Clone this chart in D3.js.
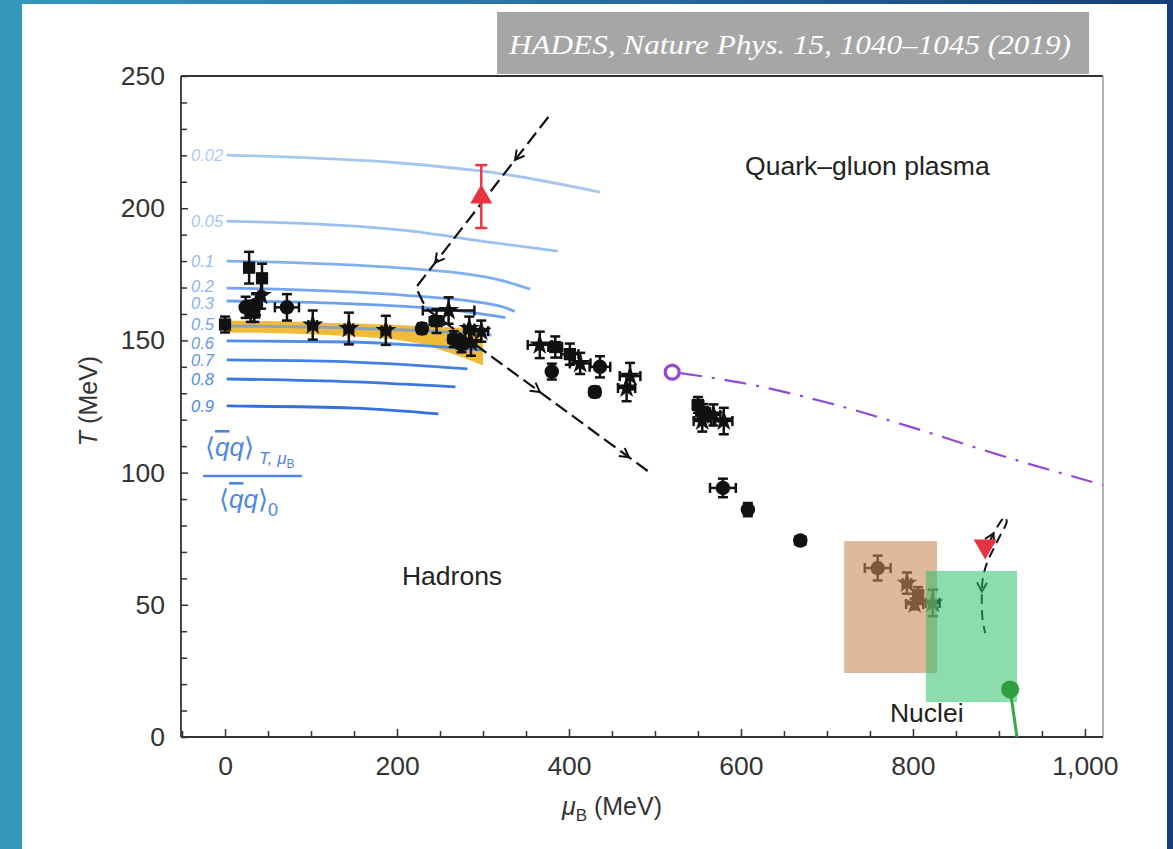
<!DOCTYPE html>
<html>
<head>
<meta charset="utf-8">
<script src="https://cdn.jsdelivr.net/npm/d3@7"></script>
<style>
  html, body { margin: 0; padding: 0; overflow: hidden; }
  svg text { font-family: "Liberation Sans", Arial, Helvetica, sans-serif; }
</style>
</head>
<body>
<svg id="chart" width="1173" height="849"></svg>
<script>
// ---- data ----
const xTicks = [0, 200, 400, 600, 800, 1000];
const yTicks = [0, 50, 100, 150, 200, 250];

// condensate ratio contours <qq>_T,muB / <qq>_0
const ccLevels = ["0.02", "0.05", "0.1", "0.2", "0.3", "0.5", "0.6", "0.7", "0.8", "0.9"];
const ccMu = [
  [2, 203, 316, 436],
  [2, 203, 316, 387],
  [2, 203, 320, 355],
  [2, 203, 320, 337],
  [2, 150, 260, 326],
  [2, 150, 250, 310],
  [2, 145, 220, 300],
  [2, 150, 282],
  [2, 150, 268],
  [2, 150, 248]
];
const ccT = [
  [220.1, 217.1, 213.3, 206.1],
  [195.1, 191.8, 186.8, 183.8],
  [180.0, 177.4, 172.8, 169.4],
  [169.8, 167.2, 163.0, 160.9],
  [164.9, 163.8, 161.6, 158.6],
  [155.5, 154.6, 153.3, 152.0],
  [149.8, 149.4, 148.2, 146.4],
  [142.6, 141.8, 139.2],
  [135.4, 134.3, 132.4],
  [125.2, 124.4, 122.2]
];
const ccColors = ["#a6c6f0", "#9cc0f0", "#80b0f0", "#74a7ee", "#6aa0ec", "#5d97ea", "#4d8ce8", "#4280e4", "#3a78e0", "#3370de"];
const ccLabelColors = ["#b0cbee", "#a8c5ee", "#98bbee", "#8fb5ee", "#85aeec", "#77a4ea", "#6a9be8", "#5e92e6", "#5289e4", "#4a83e2"];

// lattice pseudo-critical band
const bandMu = [0, 50, 100, 150, 200, 250, 300];
const bandHi = [157.5, 157.3, 156.9, 156.4, 155.8, 155.1, 154.5];
const bandLo = [153, 152.8, 152.3, 151.5, 150.2, 146.5, 140.5];

// chemical freeze-out points
const foMu  = [0, 28, 43, 24, 30, 36, 42, 34, 72, 102, 144, 187, 229, 246, 260, 266, 275, 286, 284, 298,
               366, 384, 380, 401, 413, 436, 430, 471, 467,
               550, 556, 568, 555, 580, 579, 608, 669, 759, 793, 806, 802, 823];
const foT   = [156, 177.5, 173.5, 162.5, 161, 163.5, 167, 160.5, 162.5, 155.8, 154.5, 153.8, 154.5, 157.3, 161.3, 150.5, 148.5, 149.2, 154.5, 153.5,
               148.3, 147.5, 138.2, 144.8, 141.3, 140, 130.5, 136.5, 132,
               125.6, 122.9, 121.8, 119.5, 119.5, 94.2, 86, 74.3, 63.9, 58.2, 53.7, 50.3, 50.7];
const foDMu = [2, 3, 3, 3, 4, 3, 3, 5, 14, 5, 5, 5, 5, 8, 30, 6, 6, 6, 6, 8,
               14, 8, 3, 10, 12, 12, 6, 12, 10,
               6, 8, 8, 10, 10, 15, 4, 6, 15, 5, 5, 10, 8];
const foDT  = [3, 6, 5.5, 4, 4, 4, 5, 3.5, 5, 5.5, 6, 5.5, 2, 4.5, 5, 3, 3, 5, 4.5, 4,
               5, 4, 3, 4, 4, 4, 2, 5, 5,
               3, 3, 4, 4, 5, 3.5, 2.5, 1.5, 4.7, 4, 3, 2, 5];
const foShape = ["square", "square", "square", "circle", "square", "circle", "star", "square", "circle", "star", "star", "star", "circle", "square", "star", "circle", "circle", "star", "star", "star",
                 "star", "square", "circle", "square", "star", "circle", "circle", "star", "star",
                 "square", "square", "star", "star", "star", "circle", "circle", "circle", "circle", "star", "square", "star", "star"];

// red triangles
const triUp = { mu: 298, T: 204.2, lo: 192.5, hi: 216.3 };
const triDown = { mu: 884, T: 72.2 };

// dashed trajectories
const traj1Mu = [376, 222, 234, 494];
const traj1T  = [234.5, 170, 162, 100];
const traj2Mu = [884, 890, 898, 907, 909, 903, 893, 886, 881, 880, 881, 884];
const traj2T  = [68.1, 74.5, 79.4, 83.2, 81.3, 77.2, 70.7, 65.8, 59.4, 51.8, 44.3, 39.3];

// critical end point and its line
const cepMu = [520, 600, 700, 800, 900, 1021];
const cepT  = [138, 134, 126.5, 117, 106.7, 95.3];

// nuclear liquid-gas point
const nucMu = [913, 917, 921];
const nucT  = [18, 9, 0];

// shaded regions
const boxBrown = { mu: [720, 828], T: [24.2, 74.1] };
const boxGreen = { mu: [815, 921], T: [13.2, 62.8] };

// ---- drawing ----
const svg = d3.select("#chart");
const W = 1173, H = 849;

const defs = svg.append("defs");
const grad = defs.append("linearGradient").attr("id", "bg").attr("x1", 0).attr("y1", 0).attr("x2", 1).attr("y2", 0);
grad.append("stop").attr("offset", 0).attr("stop-color", "#3399bb");
grad.append("stop").attr("offset", 0.45).attr("stop-color", "#2874a2");
grad.append("stop").attr("offset", 1).attr("stop-color", "#163c7c");

svg.append("rect").attr("width", W).attr("height", H).attr("fill", "url(#bg)");
svg.append("rect").attr("x", 22).attr("y", 4).attr("width", 1145).attr("height", H).attr("fill", "#ffffff");

// title box
svg.append("rect").attr("x", 497).attr("y", 12).attr("width", 592).attr("height", 62).attr("fill", "#a6a6a6");
svg.append("text")
  .attr("x", 790).attr("y", 54)
  .attr("text-anchor", "middle")
  .style("font-family", "'Liberation Serif', 'DejaVu Serif', serif")
  .style("font-style", "italic")
  .style("font-size", "28px")
  .attr("fill", "#ffffff")
  .attr("textLength", 562).attr("lengthAdjust", "spacingAndGlyphs")
  .text("HADES, Nature Phys. 15, 1040–1045 (2019)");

const x = d3.scaleLinear().domain([-51.2, 1021]).range([181, 1103]);
const y = d3.scaleLinear().domain([0, 250]).range([737, 76]);

// axes
const minorX = d3.range(-50, 1021, 50).filter(d => d % 200 !== 0);
const minorY = d3.range(0, 251, 10).filter(d => d % 50 !== 0);

svg.append("g").attr("transform", "translate(0,737)")
  .call(d3.axisBottom(x).tickValues(minorX).tickSize(-6).tickFormat(""))
  .call(g => g.select(".domain").remove());
const gx = svg.append("g").attr("transform", "translate(0,737)")
  .call(d3.axisBottom(x).tickValues(xTicks).tickSize(-8).tickPadding(19).tickFormat(d3.format(",")))
  .call(g => g.select(".domain").remove());
gx.selectAll("text").style("font-size", "26.5px").attr("fill", "#333");

svg.append("g").attr("transform", "translate(181,0)")
  .call(d3.axisLeft(y).tickValues(minorY).tickSize(-6).tickFormat(""))
  .call(g => g.select(".domain").remove());
const gy = svg.append("g").attr("transform", "translate(181,0)")
  .call(d3.axisLeft(y).tickValues(yTicks).tickSize(-7).tickPadding(16))
  .call(g => g.select(".domain").remove());
gy.selectAll("text").style("font-size", "26.5px").attr("fill", "#333");
svg.selectAll(".tick line").attr("stroke", "#333").attr("stroke-width", 1.5);

// frame
svg.append("line").attr("x1", 181).attr("x2", 1103).attr("y1", 76).attr("y2", 76).attr("stroke", "#333").attr("stroke-width", 1.8);
svg.append("line").attr("x1", 1103).attr("x2", 1103).attr("y1", 76).attr("y2", 737).attr("stroke", "#9a9a9a").attr("stroke-width", 1.5);
svg.append("line").attr("x1", 181).attr("x2", 181).attr("y1", 76).attr("y2", 737).attr("stroke", "#333").attr("stroke-width", 1.8);
svg.append("line").attr("x1", 181).attr("x2", 1103).attr("y1", 737).attr("y2", 737).attr("stroke", "#333").attr("stroke-width", 1.8);

// axis titles
const yl = svg.append("text").attr("transform", "translate(97,401) rotate(-90)")
  .attr("text-anchor", "middle").style("font-size", "25px").attr("fill", "#333");
yl.append("tspan").style("font-style", "italic").text("T");
yl.append("tspan").text(" (MeV)");

const xl = svg.append("text").attr("x", 612).attr("y", 815)
  .attr("text-anchor", "middle").style("font-size", "25px").attr("fill", "#333");
xl.append("tspan").style("font-style", "italic").text("μ");
xl.append("tspan").attr("dy", 6).style("font-size", "17px").text("B");
xl.append("tspan").attr("dy", -6).text(" (MeV)");

// band
const area = d3.area().x(d => x(d[0])).y0(d => y(d[1])).y1(d => y(d[2])).curve(d3.curveMonotoneX);
svg.append("path")
  .datum(bandMu.map((m, i) => [m, bandLo[i], bandHi[i]]))
  .attr("d", area).attr("fill", "#f1bb3a");

// contour lines and labels (labels of close pairs nudged apart a little)
const labelNudge = [0, 0, 0, -2, 2, -2, 2, 0, 0, 0];
const line = d3.line().x(d => x(d[0])).y(d => y(d[1])).curve(d3.curveMonotoneX);
ccLevels.forEach((lev, i) => {
  const pts = ccMu[i].map((m, j) => [m, ccT[i][j]]);
  svg.append("path").datum(pts).attr("d", line)
    .attr("fill", "none").attr("stroke", ccColors[i]).attr("stroke-width", 2.8)
    .attr("stroke-opacity", i === 5 ? 0.7 : 1);
  svg.append("text")
    .attr("x", 191).attr("y", y(ccT[i][0]) + labelNudge[i]).attr("dy", "0.36em")
    .style("font-size", "16.5px").style("font-style", "italic")
    .attr("fill", ccLabelColors[i]).text(lev);
});

// ratio legend
const blue = "#4f86e2";
const num = svg.append("text").attr("x", 205).attr("y", 456).style("font-size", "26px").attr("fill", blue);
num.append("tspan").text("⟨");
num.append("tspan").style("font-style", "italic").style("text-decoration", "overline").text("q");
num.append("tspan").style("font-style", "italic").text("q");
num.append("tspan").text("⟩");
num.append("tspan").attr("dx", 5).attr("dy", 8).style("font-size", "17px").style("font-style", "italic").text("T, μ");
num.append("tspan").attr("dy", 4).style("font-size", "12px").text("B");
svg.append("line").attr("x1", 203).attr("x2", 302).attr("y1", 476).attr("y2", 476).attr("stroke", blue).attr("stroke-width", 2.5);
const den = svg.append("text").attr("x", 219).attr("y", 508).style("font-size", "26px").attr("fill", blue);
den.append("tspan").text("⟨");
den.append("tspan").style("font-style", "italic").style("text-decoration", "overline").text("q");
den.append("tspan").style("font-style", "italic").text("q");
den.append("tspan").text("⟩");
den.append("tspan").attr("dy", 8).style("font-size", "18px").text("0");

// arrows along a path
function arrows(pathSel, fracs) {
  const node = pathSel.node();
  const L = node.getTotalLength();
  fracs.forEach(f => {
    const p = node.getPointAtLength(L * f);
    const q = node.getPointAtLength(Math.max(0, L * f - 2));
    const a = Math.atan2(p.y - q.y, p.x - q.x) * 180 / Math.PI;
    svg.append("path").attr("d", "M-9,-5L0,0L-9,5")
      .attr("transform", `translate(${p.x},${p.y}) rotate(${a})`)
      .attr("fill", "none").attr("stroke", "#111").attr("stroke-width", 2);
  });
}

// trajectories
const linLine = d3.line().x(d => x(d[0])).y(d => y(d[1]));
const t1 = svg.append("path").datum(traj1Mu.map((m, i) => [m, traj1T[i]])).attr("d", linLine)
  .attr("fill", "none").attr("stroke", "#111").attr("stroke-width", 2.2).attr("stroke-dasharray", "14,6");
arrows(t1, [0.105, 0.357, 0.736, 0.95]);

const curvy = d3.line().x(d => x(d[0])).y(d => y(d[1])).curve(d3.curveCatmullRom);
const t2 = svg.append("path").datum(traj2Mu.map((m, i) => [m, traj2T[i]])).attr("d", curvy)
  .attr("fill", "none").attr("stroke", "#111").attr("stroke-width", 2).attr("stroke-dasharray", "10,6");
arrows(t2, [0.15, 0.75]);

// CEP dash-dot line
svg.append("path").datum(cepMu.map((m, i) => [m, cepT[i]])).attr("d", line)
  .attr("fill", "none").attr("stroke", "#9448d8").attr("stroke-width", 2.2)
  .attr("stroke-dasharray", "22,10,3,10").attr("stroke-dashoffset", -8);
svg.append("circle").attr("cx", x(cepMu[0])).attr("cy", y(cepT[0])).attr("r", 7)
  .attr("fill", "#fff").attr("stroke", "#9448d8").attr("stroke-width", 3.2);

// freeze-out points with error bars
const fo = foMu.map((m, i) => ({ mu: m, T: foT[i], dmu: foDMu[i], dT: foDT[i], shape: foShape[i] }));
const eg = svg.append("g").attr("stroke", "#111").attr("stroke-width", 2.5);
fo.forEach(d => {
  const cx = x(d.mu), cy = y(d.T);
  const x0 = x(d.mu - d.dmu), x1 = x(d.mu + d.dmu), y0 = y(d.T - d.dT), y1 = y(d.T + d.dT);
  eg.append("line").attr("x1", x0).attr("x2", x1).attr("y1", cy).attr("y2", cy);
  eg.append("line").attr("x1", cx).attr("x2", cx).attr("y1", y0).attr("y2", y1);
  eg.append("line").attr("x1", x0).attr("x2", x0).attr("y1", cy - 5).attr("y2", cy + 5);
  eg.append("line").attr("x1", x1).attr("x2", x1).attr("y1", cy - 5).attr("y2", cy + 5);
  eg.append("line").attr("x1", cx - 5).attr("x2", cx + 5).attr("y1", y0).attr("y2", y0);
  eg.append("line").attr("x1", cx - 5).attr("x2", cx + 5).attr("y1", y1).attr("y2", y1);
});
const symType = { circle: d3.symbolCircle, square: d3.symbolSquare, star: d3.symbolStar };
const symSize = { circle: 165, square: 150, star: 140 };
svg.append("g").selectAll("path").data(fo).join("path")
  .attr("transform", d => `translate(${x(d.mu)},${y(d.T)})`)
  .attr("d", d => d3.symbol().type(symType[d.shape]).size(symSize[d.shape])())
  .attr("fill", "#111");

// red triangles
svg.append("line").attr("x1", x(triUp.mu)).attr("x2", x(triUp.mu)).attr("y1", y(triUp.lo)).attr("y2", y(triUp.hi))
  .attr("stroke", "#e8323f").attr("stroke-width", 2.4);
[triUp.lo, triUp.hi].forEach(v => {
  svg.append("line").attr("x1", x(triUp.mu) - 6).attr("x2", x(triUp.mu) + 6).attr("y1", y(v)).attr("y2", y(v))
    .attr("stroke", "#e8323f").attr("stroke-width", 2.4);
});
svg.append("path").attr("transform", `translate(${x(triUp.mu)},${y(triUp.T)})`)
  .attr("d", d3.symbol().type(d3.symbolTriangle).size(210)()).attr("fill", "#e8323f");
svg.append("path").attr("transform", `translate(${x(triDown.mu)},${y(triDown.T)}) rotate(180)`)
  .attr("d", d3.symbol().type(d3.symbolTriangle).size(230)()).attr("fill", "#e8323f");

// shaded regions (drawn over the points)
svg.append("rect").attr("x", x(boxBrown.mu[0])).attr("y", y(boxBrown.T[1]))
  .attr("width", x(boxBrown.mu[1]) - x(boxBrown.mu[0])).attr("height", y(boxBrown.T[0]) - y(boxBrown.T[1]))
  .attr("fill", "#c98a5a").attr("fill-opacity", 0.6);
svg.append("rect").attr("x", x(boxGreen.mu[0])).attr("y", y(boxGreen.T[1]))
  .attr("width", x(boxGreen.mu[1]) - x(boxGreen.mu[0])).attr("height", y(boxGreen.T[0]) - y(boxGreen.T[1]))
  .attr("fill", "#2fbf6a").attr("fill-opacity", 0.55);

// nuclear liquid-gas point
svg.append("path").datum(nucMu.map((m, i) => [m, nucT[i]])).attr("d", line)
  .attr("fill", "none").attr("stroke", "#36a844").attr("stroke-width", 3);
svg.append("circle").attr("cx", x(nucMu[0])).attr("cy", y(nucT[0])).attr("r", 9).attr("fill", "#2f9e3f");

// region labels
const regions = [
  { text: "Quark–gluon plasma", mu: 747, T: 212.5 },
  { text: "Hadrons", mu: 264, T: 57.5 },
  { text: "Nuclei", mu: 816, T: 5.7 }
];
svg.append("g").selectAll("text").data(regions).join("text")
  .attr("x", d => x(d.mu)).attr("y", d => y(d.T))
  .attr("text-anchor", "middle").style("font-size", "26.5px").attr("fill", "#222")
  .text(d => d.text);
</script>
</body>
</html>
